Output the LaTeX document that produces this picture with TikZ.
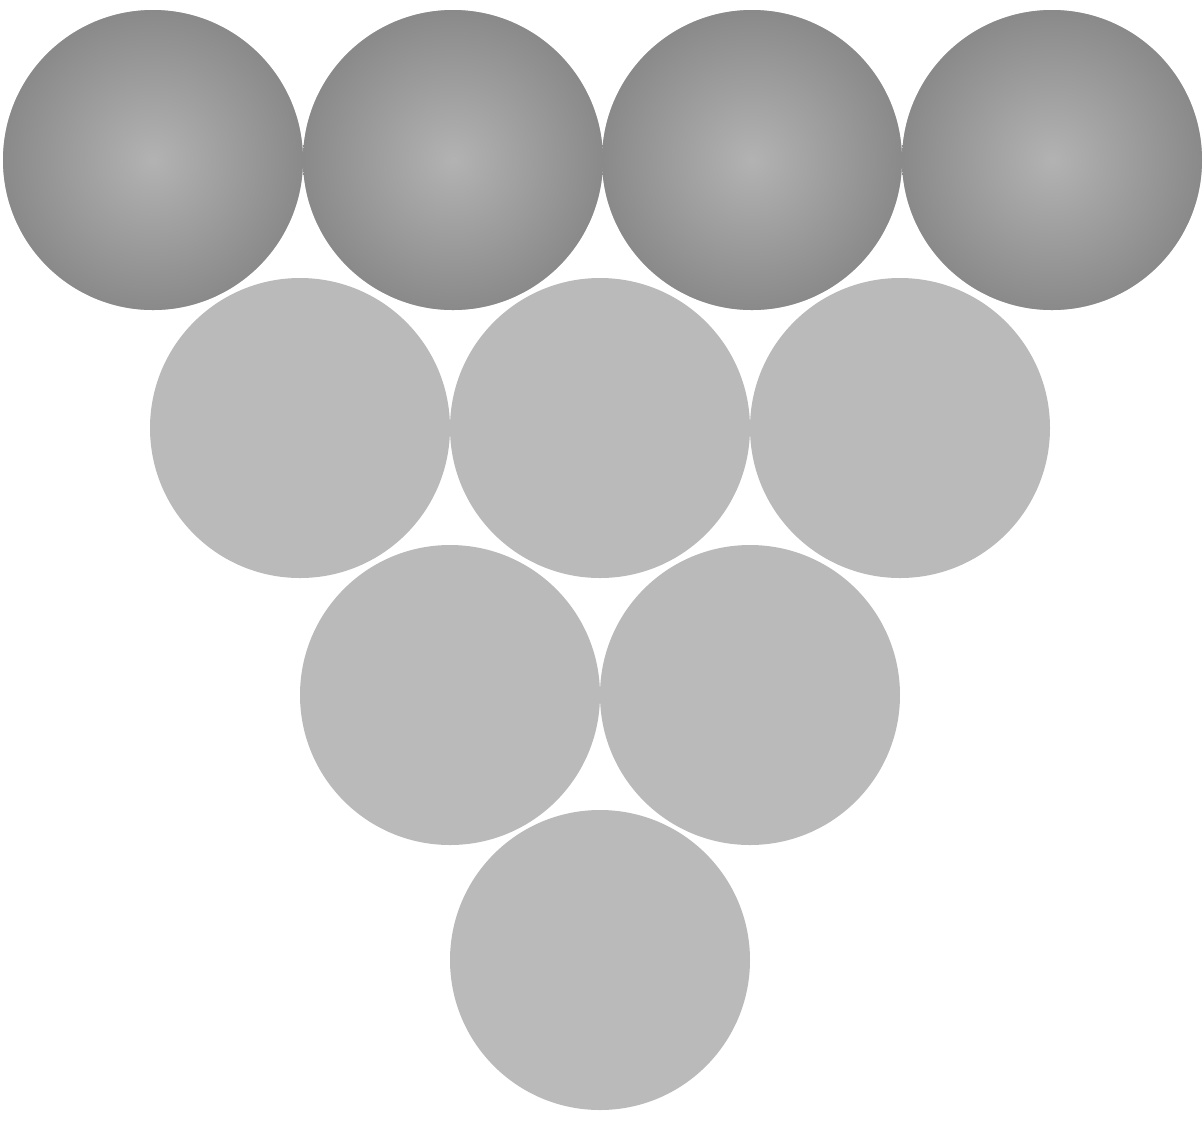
\documentclass[tikz,border=0pt]{standalone}
\usetikzlibrary{positioning}
\tikzset{
  disc/.style={circle, draw=none, fill=black!27, minimum size=3.0cm, inner sep=0pt},
  topdisc/.style={disc, shade, shading=radial, inner color=black!30, outer color=black!46}}
\begin{document}
\begin{tikzpicture}
  \useasboundingbox (0,0) rectangle (12.03,-11.22);
  % top row
  \node[topdisc] (a1) at (1.53,-1.60) {};
  \node[topdisc] (a2) at (4.53,-1.60) {};
  \node[topdisc] (a3) at (7.52,-1.60) {};
  \node[topdisc] (a4) at (10.52,-1.60) {};
  % second row
  \node[disc] (b1) at (3.00,-4.28) {};
  \node[disc] (b2) at (6.00,-4.28) {};
  \node[disc] (b3) at (9.00,-4.28) {};
  % third row
  \node[disc] (c1) at (4.50,-6.95) {};
  \node[disc] (c2) at (7.50,-6.95) {};
  % bottom
  \node[disc] (d1) at (6.00,-9.60) {};
\end{tikzpicture}
\end{document}
